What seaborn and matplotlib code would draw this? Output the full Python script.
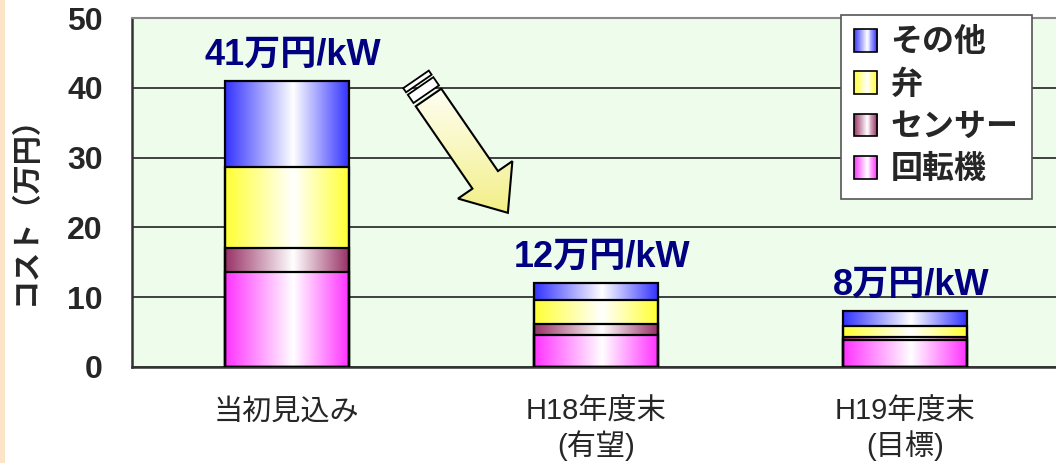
import numpy as np
import pandas as pd
import matplotlib
matplotlib.use("Agg")
import matplotlib.pyplot as plt
import seaborn as sns
from matplotlib.colors import LinearSegmentedColormap
from matplotlib.patches import Polygon, Rectangle, Patch
from matplotlib.legend_handler import HandlerBase

# ---- data -------------------------------------------------------------
categories = ["当初見込み", "H18年度末\n(有望)", "H19年度末\n(目標)"]
components = ["回転機", "センサー", "弁", "その他"]        # stacked bottom -> top
rotating = [13.6, 4.6, 3.9]
sensor = [3.4, 1.6, 0.4]
valve = [11.7, 3.4, 1.6]
other = [12.3, 2.4, 2.1]
y_ticks = [0, 10, 20, 30, 40, 50]
y_label = "コスト（万円）"
unit_text = "万円/kW"

series = [rotating, sensor, valve, other]
colors = ["#ff33ff", "#993366", "#ffff33", "#3333ff"]

sns.set_style("white")
plt.rcParams["font.family"] = ["Liberation Sans", "Noto Sans CJK JP", "DejaVu Sans"]

W, H = 1056, 463
fig = plt.figure(figsize=(W / 100, H / 100), dpi=100)
fig.patch.set_facecolor("white")
fig.patches.append(Rectangle((0, 0), 5 / W, 1, transform=fig.transFigure,
                             facecolor="#fde3c8", edgecolor="none", zorder=0))

ax = fig.add_axes([132 / W, (H - 367) / H, 928 / W, 349 / H])
ax.set_facecolor("#eefcec")


def gradient_cmap(c):
    return LinearSegmentedColormap.from_list("g", [(0, c), (0.55, "white"), (1, c)])


# cumulative tops for each layer, drawn from the top layer down so lower
# layers sit in front of the taller ones
df = pd.DataFrame({"category": categories})
cum = np.cumsum(np.array(series), axis=0)
for k, name in enumerate(components):
    df[name] = cum[k]

grad = np.linspace(0, 1, 256).reshape(1, -1)
for k in reversed(range(len(components))):
    n0 = len(ax.patches)
    sns.barplot(data=df, x="category", y=components[k], color=colors[k],
                width=0.4, errorbar=None, ax=ax)
    bottoms = cum[k - 1] if k > 0 else np.zeros(len(categories))
    for i, p in enumerate(ax.patches[n0:]):
        x0, w, top = p.get_x(), p.get_width(), p.get_height()
        ax.imshow(grad, cmap=gradient_cmap(colors[k]), aspect="auto",
                  extent=(x0, x0 + w, bottoms[i], top), zorder=2,
                  interpolation="bilinear")
        p.set_facecolor("none")
        p.set_edgecolor("black")
        p.set_linewidth(1.6)
        p.set_zorder(3)

# value labels over each stack
totals = cum[-1]
for i, t in enumerate(totals):
    ax.text(i + 0.02, t + 1.2, f"{round(t):d}{unit_text}", ha="center", va="bottom",
            fontsize=26, fontweight="bold", color="#000080", zorder=5)

ax.set_xlim(-0.5, 2.5)
ax.set_ylim(0, 50)
ax.set_yticks(y_ticks)
ax.set_xlabel("")
ax.set_ylabel("")
ax.set_xticks(range(len(categories)))
ax.set_xticklabels(categories, fontsize=21, linespacing=1.2)
ax.set_xticks([0.5, 1.5], minor=True)
ax.tick_params(axis="x", which="major", length=0, pad=22)
ax.tick_params(axis="x", which="minor", direction="in", length=10, color="#555555")
ax.tick_params(axis="y", direction="in", length=9, pad=21, labelsize=23,
               color="#333333")
for lab in ax.get_yticklabels():
    lab.set_fontweight("bold")

ax.grid(axis="y", color="#222222", linewidth=1.2)
ax.set_axisbelow(True)
for s in ["left", "bottom"]:
    ax.spines[s].set_color("#333333")
    ax.spines[s].set_linewidth(1.8)
ax.spines["top"].set_color("#888888")
ax.spines["top"].set_linewidth(1.5)

fig.text(26 / W, 1 - 203 / H, y_label, rotation=90, ha="center", va="center",
         fontsize=21, fontweight="bold")


# legend with gradient swatches
class GradientHandler(HandlerBase):
    def create_artists(self, legend, orig_handle, xdescent, ydescent,
                       width, height, fontsize, trans):
        cmap = gradient_cmap(orig_handle.get_facecolor())
        n = 24
        arts = []
        for j in range(n):
            arts.append(Rectangle((-xdescent + width * j / n, -ydescent),
                                  width / n + 0.3, height,
                                  facecolor=cmap((j + 0.5) / n), edgecolor="none",
                                  transform=trans))
        arts.append(Rectangle((-xdescent, -ydescent), width, height,
                              facecolor="none", edgecolor="black", linewidth=1.2,
                              transform=trans))
        return arts


handles = [Patch(facecolor=colors[k], label=components[k]) for k in reversed(range(4))]
leg = ax.legend(handles=handles, handler_map={Patch: GradientHandler()},
                loc="upper right", bbox_to_anchor=(1032 / W, 1 - 15 / H),
                bbox_transform=fig.transFigure, borderaxespad=0,
                prop={"size": 23, "weight": "bold"}, handlelength=0.72,
                handleheight=0.72, handletextpad=0.42, labelspacing=0.38,
                borderpad=0.42, fancybox=False, framealpha=1,
                edgecolor="#555555")
leg.get_frame().set_linewidth(1.2)
leg.set_zorder(6)

# decorative arrow pointing from the first stack toward the later ones
ov = fig.add_axes([0, 0, 1, 1], zorder=4)
ov.set_xlim(0, W)
ov.set_ylim(H, 0)
ov.axis("off")
ov.patch.set_visible(False)

C = np.array([428.5, 97.5])
u = np.array([79.5, 115.5]); u /= np.linalg.norm(u)
nv = np.array([u[1], -u[0]])
hw, headw, length, headlen = 15.5, 33, 140, 40
body = [C - nv * hw, C + u * (length - headlen) - nv * hw,
        C + u * (length - headlen) - nv * headw, C + u * length,
        C + u * (length - headlen) + nv * headw,
        C + u * (length - headlen) + nv * hw, C + nv * hw]
arrow = Polygon(body, closed=True, facecolor="none", edgecolor="black",
                linewidth=1.5, zorder=3)
ov.add_patch(arrow)
ycol = np.linspace(0, 1, 128).reshape(-1, 1)
acmap = LinearSegmentedColormap.from_list("a", ["#fffff6", "#f2ef86"])
im = ov.imshow(ycol, cmap=acmap, extent=(400, 520, 215, 85), aspect="auto", zorder=2)
im.set_clip_path(arrow)
for a, b in [(-14, -4), (-22, -17)]:
    stripe = [C + u * a - nv * hw, C + u * b - nv * hw,
              C + u * b + nv * hw, C + u * a + nv * hw]
    ov.add_patch(Polygon(stripe, closed=True, facecolor="white",
                         edgecolor="black", linewidth=1.3, zorder=3))

fig.savefig("out.png", dpi=100)
